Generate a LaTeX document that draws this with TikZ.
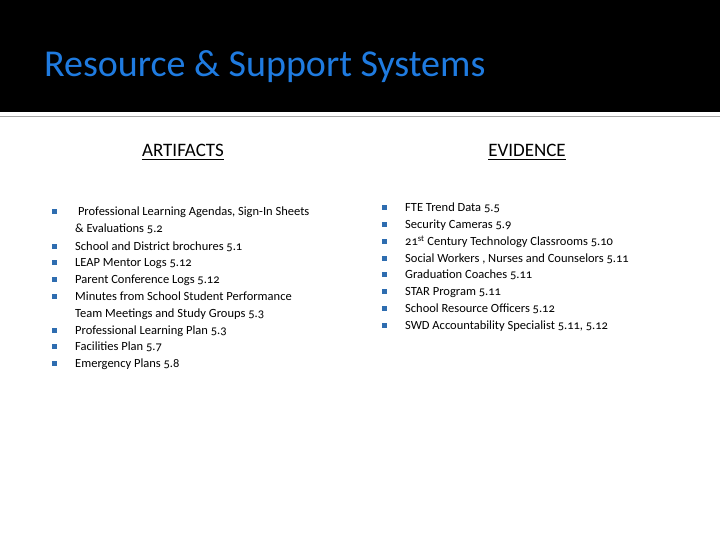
\documentclass[tikz,border=0pt]{standalone}
\usepackage{fontspec}
\setmainfont{Carlito}[Numbers=OldStyle]
\definecolor{titleblue}{HTML}{1F7BE0}
\definecolor{bulletblue}{HTML}{2E6DB0}
\begin{document}
\begin{tikzpicture}[x=1pt,y=1pt,
  ln/.style={anchor=base west,inner sep=0,font=\fontsize{12.5}{14}\selectfont},
  bl/.style={fill=bulletblue,minimum size=5pt,inner sep=0,anchor=center},
  hd/.style={anchor=base,inner sep=0,font=\fontsize{19}{22}\selectfont}]
\useasboundingbox (0,0) rectangle (720,540);
\fill[white] (0,0) rectangle (720,540);
\fill[black] (0,540) rectangle (720,428);
\draw[gray!70,line width=1pt] (0,423) -- (720,423);
\node[anchor=base west,inner sep=0,text=titleblue,font=\fontsize{38}{42}\selectfont] (title) at (44,463) {Resource \& Support Systems};
\node[hd] (h1) at (183,383) {ARTIFACTS};
\node[hd] (h2) at (527,383) {EVIDENCE};
\draw[line width=1pt] ([yshift=-3pt]h1.base west) -- ([yshift=-3pt]h1.base east);
\draw[line width=1pt] ([yshift=-3pt]h2.base west) -- ([yshift=-3pt]h2.base east);
% left column
\foreach \t/\y/\b [count=\i] in {
 {\ Professional Learning Agendas, Sign-In Sheets}/216/1,
 {\& Evaluations 5.2}/233/0,
 {School and District brochures  5.1}/251/1,
 {LEAP Mentor Logs  5.12}/267/1,
 {Parent Conference Logs 5.12}/284/1,
 {Minutes from School Student Performance}/301/1,
 {Team Meetings and Study Groups 5.3}/318/0,
 {Professional Learning Plan 5.3}/335/1,
 {Facilities Plan 5.7}/351/1,
 {Emergency Plans 5.8}/368/1}{
  \node[ln] (l\i) at (75,540-\y) {\t};
  \ifnum\b=1 \node[bl] (lb\i) at (54,540-\y+4) {};\fi
}
% right column
\foreach \t/\y [count=\i] in {
 {FTE Trend Data 5.5}/212,
 {Security Cameras 5.9}/229,
 {21\textsuperscript{st} Century Technology Classrooms 5.10}/246,
 {Social Workers , Nurses and Counselors 5.11}/263,
 {Graduation Coaches 5.11}/279,
 {STAR Program 5.11}/296,
 {School Resource Officers 5.12}/313,
 {SWD Accountability Specialist 5.11, 5.12}/330}{
  \node[ln] (r\i) at (405,540-\y) {\t};
  \node[bl] (rb\i) at (384,540-\y+4) {};
}
\end{tikzpicture}
\end{document}
